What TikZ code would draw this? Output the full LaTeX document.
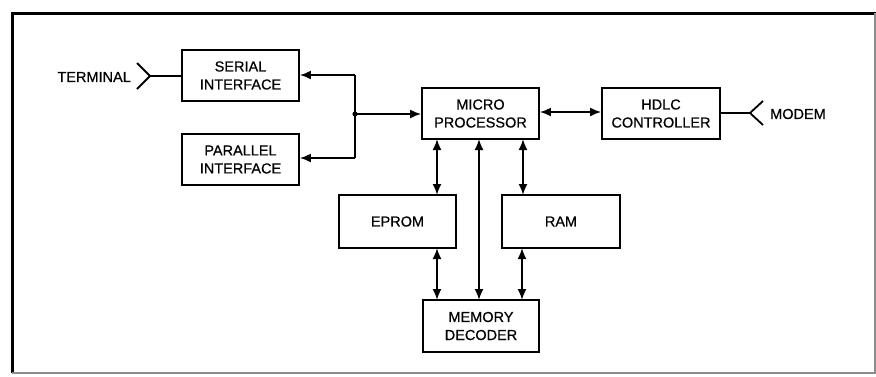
\documentclass[tikz,border=0pt]{standalone}
\usepackage{fontspec}
\setmainfont{Liberation Sans}
\newfontfamily\diagfont{Liberation Sans}[FakeBold=0.6]
\usetikzlibrary{arrows.meta}
\begin{document}
\begin{tikzpicture}[x=1pt,y=-1pt,
  blk/.style={draw,line width=1.8pt,inner sep=0pt,align=center,font=\fontsize{14.5}{18}\diagfont},
  conn/.style={line width=1.8pt},
  tip/.style={-{Latex[length=11pt,width=9pt]}},
  tips/.style={{Latex[length=11pt,width=9pt]}-{Latex[length=11pt,width=9pt]}},
  lbl/.style={font=\fontsize{14.5}{18}\diagfont,inner sep=0pt}]
\useasboundingbox (0,0) rectangle (876,376);
% frame
\draw[line width=3pt] (12,373) -- (12,13) -- (876,13);
\draw[line width=1.2pt,black!45] (12,373) -- (875,373) -- (875,13);
% blocks
\node[blk,minimum width=117pt,minimum height=51pt] (ser) at (240.5,75.5) {SERIAL\\INTERFACE};
\node[blk,minimum width=117pt,minimum height=51pt] (par) at (240.5,159.5) {PARALLEL\\INTERFACE};
\node[blk,minimum width=117pt,minimum height=51pt] (mp) at (480.5,113.5) {MICRO\\PROCESSOR};
\node[blk,minimum width=118pt,minimum height=51pt] (hdlc) at (661,113.5) {HDLC\\CONTROLLER};
\node[blk,minimum width=117pt,minimum height=53pt] (eprom) at (397.5,221.5) {EPROM};
\node[blk,minimum width=118pt,minimum height=53pt] (ram) at (561,221.5) {RAM};
\node[blk,minimum width=116pt,minimum height=52pt] (dec) at (481,326) {MEMORY\\DECODER};
% terminal
\node[lbl,anchor=east] (term) at (131,77) {TERMINAL};
\coordinate (tc) at (150,76);
\draw[conn] (137,63) -- (tc) -- (137,89);
\draw[conn] (tc) -- (ser.west |- tc);
% modem
\node[lbl,anchor=west] (modem) at (770,114) {MODEM};
\coordinate (mc) at (750,113);
\draw[conn] (763,101) -- (mc) -- (763,125);
\draw[conn] (hdlc.east |- mc) -- (mc);
% junction
\coordinate (j) at (355,114);
\coordinate (jt) at (355,75);
\coordinate (jb) at (355,158);
\fill (j) circle (2.6pt);
\draw[conn,tip] (jt) -- (ser.east |- jt);
\draw[conn,tip] (jb) -- (par.east |- jb);
\draw[conn] (jt) -- (jb);
\draw[conn,tip] (j) -- (mp.west |- j);
% mp - hdlc
\draw[conn,tips] (mp.east |- 0,112) -- (hdlc.west |- 0,112);
% verticals
\draw[conn,tips] (437,139) -- (437,195);
\draw[conn,tips] (523,139) -- (523,195);
\draw[conn,tips] (437,248) -- (437,300);
\draw[conn,tips] (522,248) -- (522,300);
\draw[conn,tips] (479,139) -- (479,300);
\end{tikzpicture}
\end{document}
